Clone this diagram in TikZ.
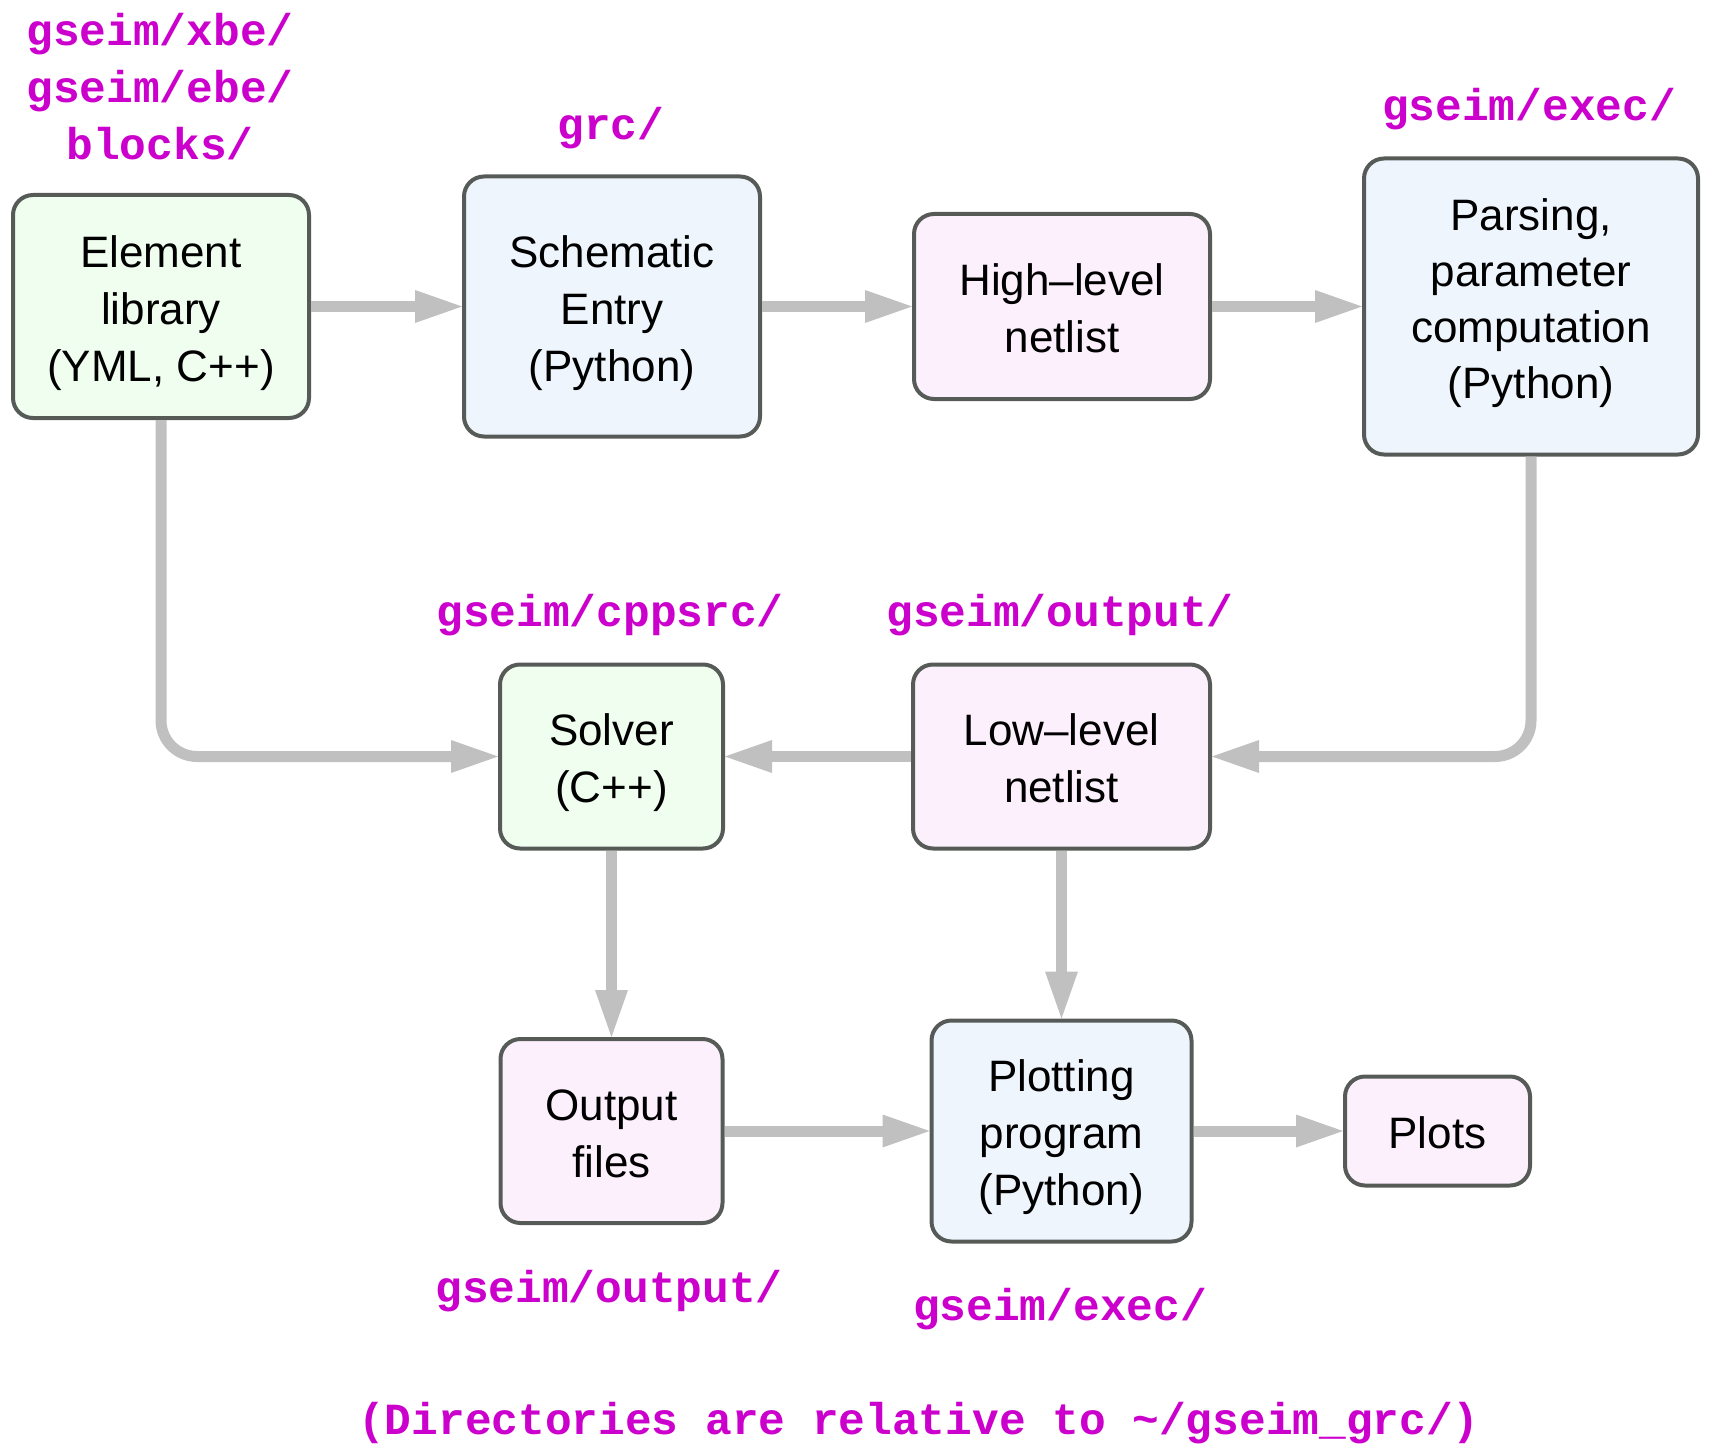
\documentclass[tikz,border=0pt]{standalone}
\usepackage{fontspec}
\setmainfont{Liberation Sans}
\newfontfamily\monob{Liberation Mono}
\usetikzlibrary{arrows.meta}
\definecolor{boxline}{HTML}{575B57}
\definecolor{gfill}{HTML}{F0FEF0}
\definecolor{bfill}{HTML}{EEF5FD}
\definecolor{pfill}{HTML}{FDF0FD}
\definecolor{linkgray}{HTML}{C0C0C0}
\definecolor{dirc}{HTML}{CC00CC}
\newcommand{\tp}{\rule{0pt}{44.5pt}}
\newcommand{\bt}{\rule[-9.5pt]{0pt}{0pt}}
\newcommand{\btp}{\rule[-28.5pt]{0pt}{0pt}}
\begin{document}
\begin{tikzpicture}[x=1pt,y=-1pt,
  box/.style={draw=boxline, line width=4pt, rounded corners=20pt, align=center,
    font=\fontsize{44}{57}\selectfont, inner sep=0pt},
  gbox/.style={box, fill=gfill},
  bbox/.style={box, fill=bfill},
  pbox/.style={box, fill=pfill},
  dir/.style={text=dirc, font=\monob\bfseries\fontsize{44.5}{57}\selectfont, anchor=base, inner sep=0pt},
  link/.style={draw=linkgray, line width=11pt, -{Triangle[length=47pt,width=33pt,line width=0pt]}}
]
\useasboundingbox (0,0) rectangle (1713,1450);

% boxes
\node[gbox, minimum width=296pt, minimum height=223pt] (elem) at (161,306.5) {\tp Element\\library\\(YML, C++)\bt};
\node[bbox, minimum width=296pt, minimum height=260pt] (schem) at (612,306.5) {\tp Schematic\\Entry\\(Python)\bt};
\node[pbox, minimum width=296pt, minimum height=185pt] (high) at (1062,306.5) {\tp High–level\\netlist\bt};
\node[bbox, minimum width=334pt, minimum height=296pt, font=\fontsize{44}{56}\selectfont] (parse) at (1531,306.5) {\tp Parsing,\\parameter\\computation\\(Python)\btp};
\node[gbox, minimum width=223pt, minimum height=184pt] (solver) at (611.5,756.5) {\tp Solver\\(C++)\bt};
\node[pbox, minimum width=297pt, minimum height=184pt] (low) at (1061.5,756.5) {\tp Low–level\\netlist\bt};
\node[pbox, minimum width=222pt, minimum height=184pt] (outf) at (611.5,1131) {\tp Output\\files\bt};
\node[bbox, minimum width=260pt, minimum height=221pt] (plot) at (1061.5,1131) {\tp Plotting\\program\\(Python)\bt};
\node[pbox, minimum width=185pt, minimum height=109pt] (plots) at (1437.5,1131) {\tp Plots\bt};

% directory labels
\node[dir] (l1) at (160,46) {gseim/xbe/};
\node[dir] (l2) at (160,103) {gseim/ebe/};
\node[dir] (l3) at (160,160) {blocks/};
\node[dir] (l4) at (611,140) {grc/};
\node[dir] (l5) at (1529,121) {gseim/exec/};
\node[dir] (l6) at (610,626) {gseim/cppsrc/};
\node[dir] (l7) at (1060,626) {gseim/output/};
\node[dir] (l8) at (609,1302) {gseim/output/};
\node[dir] (l9) at (1060,1320) {gseim/exec/};
\node[dir] (cap) at (919,1434) {(Directories are relative to \textasciitilde/gseim\_grc/)};

% connectors
\draw[link] (elem.east) -- (schem.west);
\draw[link] (schem.east) -- (high.west);
\draw[link] (high.east) -- (parse.west);
\draw[link, rounded corners=36pt] (parse.south) |- (low.east);
\draw[link, rounded corners=36pt] (elem.south) |- (solver.west);
\draw[link] (low.west) -- (solver.east);
\draw[link] (solver.south) -- (outf.north);
\draw[link] (low.south) -- (plot.north);
\draw[link] (outf.east) -- (plot.west);
\draw[link] (plot.east) -- (plots.west);
\end{tikzpicture}
\end{document}
